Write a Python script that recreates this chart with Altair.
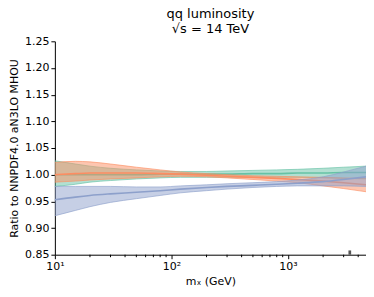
import altair as alt
import pandas as pd

mass = [10, 15, 20, 30, 50, 80, 120, 200, 300, 500, 800, 1200, 2000, 3000, 4667]

green_c = [1.000, 1.000, 1.000, 1.000, 1.000, 1.001, 1.001, 1.001, 1.001, 1.002, 1.002, 1.003, 1.003, 1.004, 1.004]
green_lo = [0.978, 0.982, 0.986, 0.989, 0.992, 0.994, 0.995, 0.995, 0.995, 0.995, 0.995, 0.995, 0.994, 0.993, 0.992]
green_hi = [1.026, 1.020, 1.016, 1.012, 1.009, 1.007, 1.006, 1.006, 1.007, 1.008, 1.009, 1.010, 1.012, 1.014, 1.016]

orange_c = [1.000, 1.002, 1.003, 1.003, 1.003, 1.002, 1.001, 0.999, 0.997, 0.995, 0.993, 0.991, 0.988, 0.985, 0.981]
orange_lo = [0.986, 0.988, 0.990, 0.992, 0.994, 0.996, 0.997, 0.996, 0.994, 0.991, 0.988, 0.985, 0.979, 0.974, 0.968]
orange_hi = [1.023, 1.025, 1.024, 1.020, 1.014, 1.009, 1.005, 1.002, 1.000, 0.998, 0.997, 0.996, 0.995, 0.994, 0.993]

blue_c = [0.953, 0.958, 0.961, 0.964, 0.967, 0.970, 0.973, 0.976, 0.978, 0.980, 0.982, 0.984, 0.987, 0.991, 0.996]
blue_lo = [0.923, 0.933, 0.940, 0.948, 0.955, 0.961, 0.966, 0.970, 0.973, 0.976, 0.978, 0.979, 0.979, 0.979, 0.978]
blue_hi = [0.978, 0.978, 0.978, 0.978, 0.977, 0.977, 0.979, 0.981, 0.983, 0.985, 0.987, 0.990, 0.996, 1.005, 1.016]

series_names = ["green", "orange", "blue"]
colors = ["#66c2a5", "#fc8d62", "#8da0cb"]

y_ticks = [0.85, 0.90, 0.95, 1.00, 1.05, 1.10, 1.15, 1.20, 1.25]
x_major = [10, 100, 1000]
x_minor = [20, 30, 40, 50, 60, 70, 80, 90, 200, 300, 400, 500, 600, 700, 800, 900, 2000, 3000, 4000]

marker_x = [3300]
marker_x2 = [3480]
marker_y = [0.85]
marker_y2 = [0.858]

rows = []
for name, c, lo, hi in zip(series_names,
                           [green_c, orange_c, blue_c],
                           [green_lo, orange_lo, blue_lo],
                           [green_hi, orange_hi, blue_hi]):
    for m, cc, l, h in zip(mass, c, lo, hi):
        rows.append({"m": m, "c": cc, "lo": l, "hi": h, "s": name})
df = pd.DataFrame(rows)

FONT = "DejaVu Sans"
xscale = alt.Scale(type="log", domain=[10, 4667], nice=False)
yscale = alt.Scale(domain=[0.85, 1.25], nice=False, zero=False)

x_axis = alt.Axis(values=x_major, title="mₓ (GeV)",
                  labelExpr="datum.value == 10 ? '10¹' : datum.value == 100 ? '10²' : '10³'",
                  grid=False, tickSize=4, labelFontSize=11, titleFontSize=11,
                  labelFont=FONT, titleFont=FONT, titleFontWeight="normal",
                  domainColor="black", tickColor="black", labelColor="black",
                  titleColor="black", labelPadding=2, titlePadding=4,
                  labelOverlap=False, labelFlush=False)
y_axis = alt.Axis(values=y_ticks, format=".2f", title="Ratio to NNPDF4.0 aN3LO MHOU",
                  grid=False, tickSize=4, labelFontSize=11, titleFontSize=11,
                  labelFont=FONT, titleFont=FONT, titleFontWeight="normal",
                  domainColor="black", tickColor="black", labelColor="black",
                  titleColor="black", labelPadding=2, titlePadding=5,
                  labelOverlap=False, labelFlush=False)


def X(field):
    return alt.X(field, type="quantitative", scale=xscale, axis=x_axis)


def Y(field):
    return alt.Y(field, type="quantitative", scale=yscale, axis=y_axis)


base = alt.Chart(df)
layers = []
for name, col in zip(series_names, colors):
    sub = base.transform_filter(alt.datum.s == name)
    layers.append(sub.mark_area(opacity=0.5, color=col, interpolate="monotone").encode(
        x=X("m"), y=Y("lo"), y2="hi:Q"))
    layers.append(sub.mark_line(color=col, strokeWidth=0.8, opacity=0.8, interpolate="monotone").encode(
        x=X("m"), y=Y("lo")))
    layers.append(sub.mark_line(color=col, strokeWidth=0.8, opacity=0.8, interpolate="monotone").encode(
        x=X("m"), y=Y("hi")))
    layers.append(sub.mark_line(color=col, strokeWidth=1.6, interpolate="monotone").encode(
        x=X("m"), y=Y("c")))

minor_df = pd.DataFrame({"m": x_minor})
minor = alt.Chart(minor_df).mark_rule(color="black", strokeWidth=1).encode(
    x=X("m"),
    y=alt.value(214), y2=alt.value(216.5))

marker_df = pd.DataFrame({"x": marker_x, "x2": marker_x2, "y": marker_y, "y2": marker_y2})
marker = alt.Chart(marker_df).mark_rect(color="#555555").encode(
    x=X("x"), x2="x2:Q",
    y=Y("y"), y2="y2:Q")

chart = alt.layer(*layers, marker, minor).properties(
    width=312, height=214,
    title=alt.TitleParams(["qq luminosity", "√s = 14 TeV"], fontSize=13, font=FONT,
                          fontWeight="normal", anchor="middle", color="black",
                          lineHeight=15, offset=-1),
    autosize=alt.AutoSizeParams(type="none"),
    padding={"left": 47, "top": 33, "right": 0, "bottom": 34},
).configure(font=FONT).configure_view(stroke=None, strokeWidth=0).configure_axis(grid=False)

chart.save("out.html", embed_options={"renderer": "svg", "actions": False})
